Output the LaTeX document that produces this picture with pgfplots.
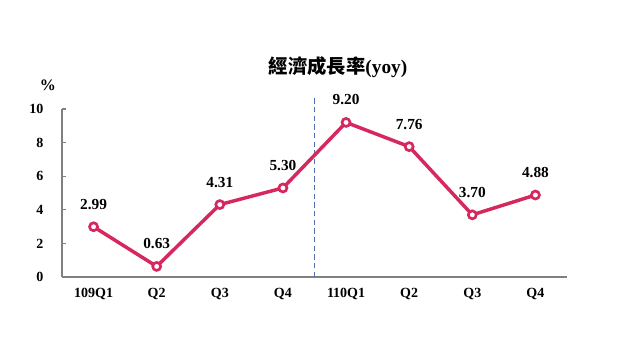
\documentclass[border=0pt]{standalone}
\usepackage{pgfplots}
\pgfplotsset{compat=1.18}
\usepackage{fontspec}
\setmainfont{Liberation Serif}
\newfontfamily\cjk{Noto Sans CJK TC}
\definecolor{lc}{RGB}{214,40,94}
\definecolor{ax}{RGB}{128,128,128}
\definecolor{dl}{RGB}{80,110,175}
\begin{document}
\begin{tikzpicture}[x=1pt,y=1pt]
\path[fill=white] (0,0) rectangle (480,270);
\begin{axis}[
  at={(46.5pt,62.25pt)}, anchor=south west,
  scale only axis, width=378.75pt, height=126pt,
  xmin=-0.5, xmax=7.5, ymin=0, ymax=10,
  axis x line=bottom, axis y line=left,
  axis line style={-, ax, line width=1pt},
  clip=false,
  tick align=inside,
  xtick={0,...,7},
  xticklabels={109Q1,Q2,Q3,Q4,110Q1,Q2,Q3,Q4},
  x tick style={draw=none},
  extra x ticks={0.5,1.5,...,7.5},
  extra x tick labels={},
  extra x tick style={major tick length=3pt, tick style={ax, line width=0.8pt}},
  ytick={0,2,...,10},
  y tick style={ax, line width=0.8pt},
  major tick length=3pt,
  /pgf/number format/assume math mode=true,
  tick label style={font=\fontsize{10.5}{12}\selectfont\bfseries},
  yticklabel style={xshift=-10.5pt},
  xticklabel style={yshift=-5pt},
]
\addplot[dl, line width=1pt, dash pattern=on 4pt off 2.5pt] coordinates {(3.5,0) (3.5,10.65)};
\addplot[lc, line width=2.6pt, mark=*, mark size=3pt,
  mark options={fill=white, draw=lc, line width=2pt},
  nodes near coords, point meta=explicit symbolic,
  every node near coord/.append style={font=\fontsize{11.5}{13}\selectfont\bfseries, black, anchor=south, inner sep=0pt, yshift=12pt}]
  coordinates {(0,2.99)[2.99] (1,0.63)[0.63] (2,4.31)[4.31] (3,5.30)[5.30] (4,9.20)[9.20] (5,7.76)[7.76] (6,3.70)[3.70] (7,4.88)[4.88]};
\end{axis}
\node[font=\fontsize{14.5}{16}\selectfont\bfseries] at (253.5,219.75) {{\cjk 經濟成長率}(yoy)};
\node[font=\fontsize{12}{14}\selectfont\bfseries] at (36,206.25) {\%};
\pgfresetboundingbox
\path[use as bounding box] (0,0) rectangle (480,270);
\end{tikzpicture}
\end{document}
